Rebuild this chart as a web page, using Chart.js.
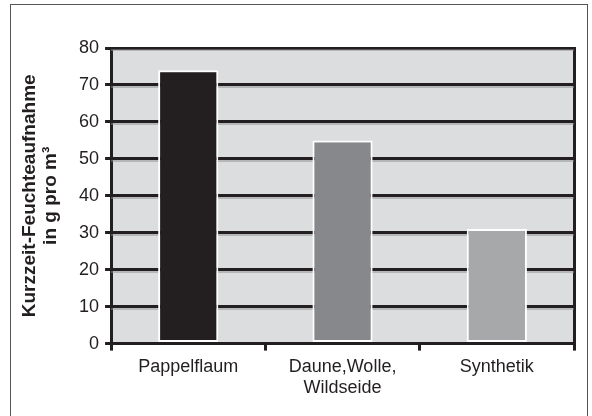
<!DOCTYPE html>
<html>
<head>
<meta charset="utf-8">
<script src="https://cdn.jsdelivr.net/npm/chart.js@4"></script>
<style>
  html, body { margin: 0; padding: 0; background: #fff; }
  #wrap { position: relative; width: 592px; height: 416px; overflow: hidden; }
  #frame { position: absolute; left: 10px; top: 4px; width: 578px; height: 430px;
           border: 1.5px solid #555; box-sizing: border-box; }
  canvas { position: absolute; left: 0; top: 0; }
</style>
</head>
<body>
<div id="wrap">
  <div id="frame"></div>
  <canvas id="feuchteChart" width="592" height="416"></canvas>
</div>
<script>
// Data
const categories = ['Pappelflaum', ['Daune,Wolle,', 'Wildseide'], 'Synthetik'];
const values = [74, 55, 31];
const barColors = ['#231f20', '#87888b', '#a7a8aa'];
const yTitle = ['Kurzzeit-Feuchteaufnahme', 'in g pro m³'];

const ink = '#231f20';

// Light grey plot background
const plotBackground = {
    id: 'plotBackground',
    beforeDraw(chart) {
        const { ctx, chartArea: a } = chart;
        ctx.save();
        ctx.fillStyle = '#dcdddf';
        ctx.fillRect(a.left, a.top, a.right - a.left, a.bottom - a.top);
        ctx.restore();
    }
};

// Thin grey shadow under every grid line
const gridShadow = {
    id: 'gridShadow',
    beforeDatasetsDraw(chart) {
        const { ctx, chartArea: a } = chart;
        const y = chart.scales.y;
        ctx.save();
        ctx.strokeStyle = '#8e8f91';
        ctx.lineWidth = 1;
        y.ticks.forEach(t => {
            if (t.value === 0) return;
            const py = Math.round(y.getPixelForValue(t.value)) + 2;
            ctx.beginPath();
            ctx.moveTo(a.left, py);
            ctx.lineTo(a.right, py);
            ctx.stroke();
        });
        ctx.restore();
    }
};

const ctx = document.getElementById('feuchteChart').getContext('2d');
const feuchteChart = new Chart(ctx, {
    type: 'bar',
    data: {
        labels: categories,
        datasets: [{
            data: values,
            backgroundColor: barColors,
            borderColor: '#ffffff',
            borderWidth: 2,
            borderSkipped: false,
            categoryPercentage: 1,
            barPercentage: 0.39
        }]
    },
    options: {
        responsive: false,
        animation: false,
        layout: { padding: { left: 20, top: 48, right: 10, bottom: 12 } },
        plugins: { legend: { display: false }, tooltip: { enabled: false } },
        scales: {
            x: {
                z: 1,
                grid: { drawOnChartArea: false, color: ink, lineWidth: 3, tickLength: 7 },
                border: { color: ink, width: 3 },
                ticks: {
                    color: ink,
                    padding: 6,
                    maxRotation: 0,
                    font: { family: 'Liberation Sans, Arial, sans-serif', size: 18, lineHeight: 1.15 }
                }
            },
            y: {
                min: 0,
                max: 80,
                ticks: {
                    stepSize: 10,
                    color: ink,
                    padding: 6,
                    font: { family: 'Liberation Sans, Arial, sans-serif', size: 18 }
                },
                grid: { color: ink, lineWidth: 3, tickLength: 6 },
                border: { color: ink, width: 3 },
                title: {
                    display: true,
                    text: yTitle,
                    color: ink,
                    padding: { top: 0, bottom: 12 },
                    font: { family: 'Liberation Sans, Arial, sans-serif', size: 19, weight: 'bold', lineHeight: 1.08 }
                }
            },
            y2: {
                position: 'right',
                min: 0,
                max: 80,
                ticks: { display: false },
                grid: { display: false },
                border: { color: ink, width: 3 }
            }
        }
    },
    plugins: [plotBackground, gridShadow]
});
</script>
</body>
</html>
